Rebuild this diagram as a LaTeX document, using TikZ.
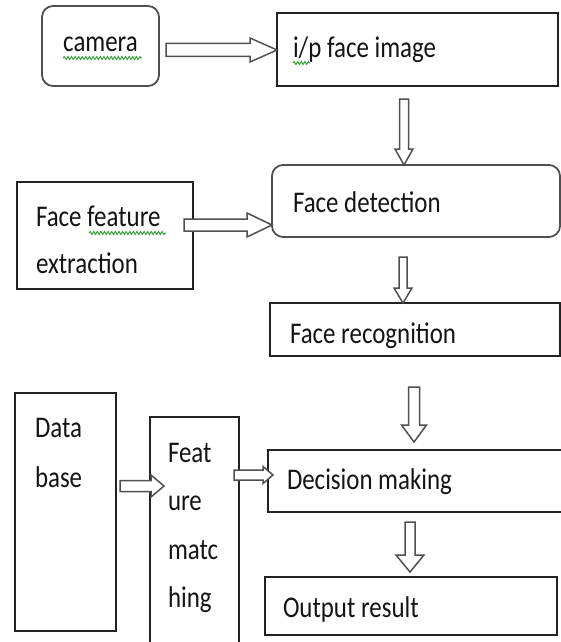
\documentclass[tikz,border=0pt]{standalone}
\usepackage{fontspec}
\setmainfont[FakeStretch=0.83]{Carlito}
\usetikzlibrary{calc,decorations.pathmorphing}
\definecolor{txtc}{HTML}{141414}
\definecolor{edge}{HTML}{222222}
\definecolor{redge}{HTML}{505050}
\definecolor{squig}{HTML}{3BA33B}
\tikzset{
  box/.style={draw=edge, line width=1.3pt, fill=white, rectangle, inner sep=0pt, outer sep=0pt, anchor=north west},
  rbox/.style={box, draw=redge, line width=1.8pt, rounded corners=11pt},
  txt/.style={inner sep=0pt, outer sep=0pt, text=txtc, font=\fontsize{30}{48}\selectfont, align=left},
  blk/.style={draw=redge, line width=1.5pt, fill=white, line join=miter},
  squiggle/.style={draw=squig, line width=1pt, decorate, decoration={snake, segment length=3.6pt, amplitude=1.5pt}}
}
\newcommand\hblk[5]{%
  \draw[blk] ($(#1)+(0,-#3)$) -- ($(#2)+(-#5,-#3)$) -- ($(#2)+(-#5,-#4)$) -- (#2)
    -- ($(#2)+(-#5,#4)$) -- ($(#2)+(-#5,#3)$) -- ($(#1)+(0,#3)$) -- cycle;}
\newcommand\vblk[5]{%
  \draw[blk] ($(#1)+(-#3,0)$) -- ($(#2)+(-#3,-#5)$) -- ($(#2)+(-#4,-#5)$) -- (#2)
    -- ($(#2)+(#4,-#5)$) -- ($(#2)+(#3,-#5)$) -- ($(#1)+(#3,0)$) -- cycle;}
\begin{document}
\begin{tikzpicture}[x=1pt,y=-1pt]
\useasboundingbox (0,0) rectangle (561,642);
% boxes
\node[rbox, minimum width=117pt, minimum height=80pt] (cam) at (42,6) {};
\node[box, minimum width=281pt, minimum height=73pt] (ip) at (277,13) {};
\node[rbox, minimum width=288pt, minimum height=72pt] (fd) at (272,165) {};
\node[box, minimum width=176pt, minimum height=107pt] (ffe) at (17,182) {};
\node[box, minimum width=290pt, minimum height=53pt] (fr) at (270,303) {};
\node[box, minimum width=101pt, minimum height=238pt] (db) at (15,393) {};
\node[box, minimum width=89pt, minimum height=240pt] (fm) at (150,417) {};
\node[box, minimum width=300pt, minimum height=62pt] (dm) at (268,450) {};
\node[box, minimum width=292pt, minimum height=58pt] (or) at (265,577) {};
% texts
\node[txt, anchor=base] (tcam) at (100.5,52) {camera};
\node[txt, anchor=base west] (tip) at (293,58) {i/p face image};
\node[txt, anchor=base west] (tfd) at (293,212) {Face detection};
\node[txt, anchor=base west] (tffe1) at (36,226) {Face feature};
\node[txt, anchor=base west] (tffe2) at (36,273) {extraction};
\node[txt, anchor=base west] (tfr) at (290,343) {Face recognition};
\node[txt, anchor=base west] (tdb1) at (35,437) {Data};
\node[txt, anchor=base west] (tdb2) at (35,487) {base};
\node[txt, anchor=base west] (tfm1) at (168,462) {Feat};
\node[txt, anchor=base west] (tfm2) at (168,510) {ure};
\node[txt, anchor=base west] (tfm3) at (168,559) {matc};
\node[txt, anchor=base west] (tfm4) at (168,607) {hing};
\node[txt, anchor=base west] (tdm) at (287,489) {Decision making};
\node[txt, anchor=base west] (tor) at (283,617) {Output result};
% spell-check squiggles
\draw[squiggle] ($(tcam.base west)+(0,6)$) -- ($(tcam.base east)+(4,6)$);
\draw[squiggle] ($(tip.base west)+(0,5)$) -- ($(tip.base west)+(17,5)$);
\draw[squiggle] ($(tffe1.base west)+(53,7)$) -- ($(tffe1.base east)+(6,7)$);
% block arrows
\coordinate (a1s) at ($(cam.east |- 0,50)+(7,0)$);
\coordinate (a1e) at (ip.west |- 0,50);
\hblk{a1s}{a1e}{6.5}{12}{27}
\coordinate (a2s) at ($(ip.south -| 404,0)+(0,13)$);
\coordinate (a2e) at (fd.north -| 404,0);
\vblk{a2s}{a2e}{4.5}{9}{16}
\coordinate (a3s) at ($(ffe.east |- 0,225)+(-9,0)$);
\coordinate (a3e) at (fd.west |- 0,225);
\hblk{a3s}{a3e}{6}{12}{25}
\coordinate (a4s) at ($(fd.south -| 403,0)+(0,20)$);
\coordinate (a4e) at (fr.north -| 403,0);
\vblk{a4s}{a4e}{4}{9}{15}
\coordinate (a5s) at ($(fr.south -| 414,0)+(0,31)$);
\coordinate (a5e) at ($(dm.north -| 414,0)+(0,-8)$);
\vblk{a5s}{a5e}{5.5}{12.5}{17}
\coordinate (a6s) at ($(db.east |- 0,486)+(4,0)$);
\coordinate (a6e) at ($(fm.west |- 0,486)+(14,0)$);
\hblk{a6s}{a6e}{5.5}{11}{13}
\coordinate (a7s) at ($(fm.east |- 0,475)+(-5,0)$);
\coordinate (a7e) at ($(dm.west |- 0,475)+(5,0)$);
\hblk{a7s}{a7e}{5}{8.5}{10}
\coordinate (a8s) at ($(dm.south -| 410,0)+(0,10)$);
\coordinate (a8e) at ($(or.north -| 410,0)+(0,-5)$);
\vblk{a8s}{a8e}{5}{14}{17}
\end{tikzpicture}
\end{document}
